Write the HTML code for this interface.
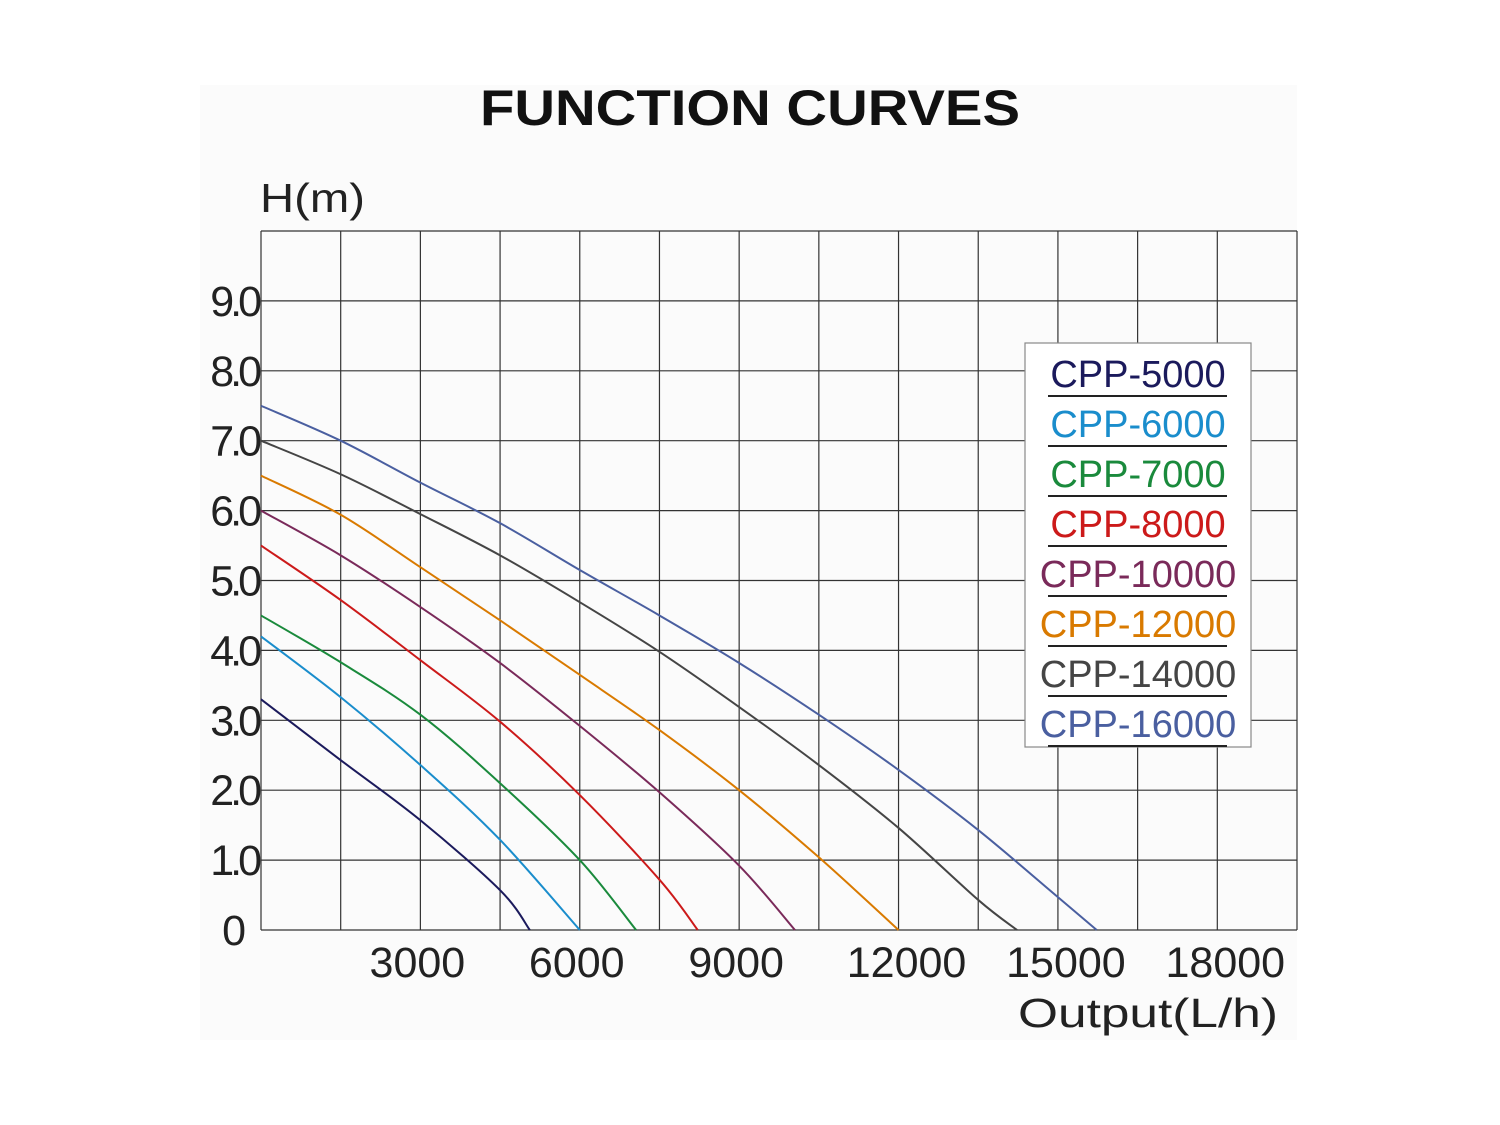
<!DOCTYPE html>
<html><head><meta charset="utf-8"><style>
html,body{margin:0;padding:0;background:#fff}
svg{display:block}
text{font-family:"Liberation Sans",sans-serif}
</style></head><body>
<svg id="chart" width="1500" height="1125" viewBox="0 0 1500 1125">
<rect x="200" y="85" width="1097" height="955" fill="#fbfbfb"/>
<text x="750" y="125" text-anchor="middle" font-size="50" font-weight="bold" textLength="540" lengthAdjust="spacingAndGlyphs" fill="#111">FUNCTION CURVES</text>
<text x="260" y="212" font-size="41" fill="#222" textLength="105" lengthAdjust="spacingAndGlyphs">H(m)</text>
<text x="1018" y="1027" font-size="41" fill="#222" textLength="260" lengthAdjust="spacingAndGlyphs">Output(L/h)</text>
<g id="grid"></g>
<g id="ticks"></g>
<g id="curves"></g>
<g id="legend"></g>
</svg>
<script>
const series = ["CPP-5000","CPP-6000","CPP-7000","CPP-8000","CPP-10000","CPP-12000","CPP-14000","CPP-16000"];
const colors = ["#1b1a5c","#1a8dcc","#1a8a3c","#cc1a1a","#7a2a5a","#d97a00","#454545","#4a5fa0"];
const flows = [0,1500,3000,4500,6000,7500,9000,10500,12000,13500,15000];
const endFlows = [5060,6000,7060,8220,10050,12000,14230,15730];
const h5000 = [3.3,2.43,1.57,0.57];
const h6000 = [4.2,3.33,2.36,1.29];
const h7000 = [4.5,3.83,3.08,2.1,1.0];
const h8000 = [5.5,4.72,3.86,2.98,1.93,0.72];
const h10000 = [6.0,5.36,4.62,3.82,2.92,1.97,0.92];
const h12000 = [6.5,5.94,5.19,4.43,3.65,2.86,2.0,1.04];
const h14000 = [7.0,6.52,5.95,5.36,4.69,3.98,3.19,2.36,1.46,0.43];
const h16000 = [7.5,7.0,6.4,5.82,5.15,4.5,3.82,3.08,2.29,1.43,0.47];
const heads = [h5000,h6000,h7000,h8000,h10000,h12000,h14000,h16000];
const yTicks = [0,1,2,3,4,5,6,7,8,9];
const yTickLabels = ["0","1.0","2.0","3.0","4.0","5.0","6.0","7.0","8.0","9.0"];
const xTicks = [3000,6000,9000,12000,15000,18000];
const xTickLabels = ["3000","6000","9000","12000","15000","18000"];

const X0=261,X1=1297,Y0=930,Y1=231,XMAX=19500,YMAX=10;
const xs=v=>X0+(X1-X0)*v/XMAX, ys=v=>Y0-(Y0-Y1)*v/YMAX;
const NS="http://www.w3.org/2000/svg";
function mk(tag,attrs,parent,txt){const e=document.createElementNS(NS,tag);for(const k in attrs)e.setAttribute(k,attrs[k]);if(txt!==undefined)e.textContent=txt;parent.appendChild(e);return e;}
const grid=document.getElementById('grid');
for(let i=0;i<=13;i++){const x=xs(i*1500);const l=mk('line',{x1:x,x2:x,y1:Y1,y2:Y0,stroke:'#333','stroke-width':1.2},grid);

}
for(let i=0;i<=10;i++){const y=ys(i);const l=mk('line',{x1:X0,x2:X1,y1:y,y2:y,stroke:'#333','stroke-width':1.2},grid);

}
const ticks=document.getElementById('ticks');
yTicks.forEach((v,i)=>{const t=mk('text',{x:v===0?242:258,y:ys(v)+15,'text-anchor':'end','font-size':43,'letter-spacing':-4,fill:'#222'},ticks,yTickLabels[i]);

});
xTicks.forEach((v,i)=>{const t=mk('text',{x:xs(v)+(v>=12000?8:-3),y:977,'text-anchor':'middle','font-size':43,fill:'#222'},ticks,xTickLabels[i]);

});
function spline(pts){let d=`M${pts[0][0]},${pts[0][1]}`;for(let i=0;i<pts.length-1;i++){const p0=pts[i-1]||pts[i],p1=pts[i],p2=pts[i+1],p3=pts[i+2]||p2;const c1=[p1[0]+(p2[0]-p0[0])/6,p1[1]+(p2[1]-p0[1])/6],c2=[p2[0]-(p3[0]-p1[0])/6,p2[1]-(p3[1]-p1[1])/6];d+=` C${c1[0]},${c1[1]} ${c2[0]},${c2[1]} ${p2[0]},${p2[1]}`;}return d;}
const curves=document.getElementById('curves');
heads.forEach((h,s)=>{const pts=h.map((v,i)=>[xs(flows[i]),ys(v)]);pts.push([xs(endFlows[s]),ys(0)]);
const p=mk('path',{d:spline(pts),fill:'none',stroke:colors[s],'stroke-width':2},curves);

});
const lg=document.getElementById('legend');
const box=mk('rect',{x:1025,y:343,width:226,height:404,fill:'#fff',stroke:'#888','stroke-width':1.2},lg);


series.forEach((n,i)=>{const y=387+i*50;const t=mk('text',{x:1138,y:y,'text-anchor':'middle','font-size':38,fill:colors[i]},lg,n);


const l=mk('line',{x1:1048,x2:1227,y1:y+9,y2:y+9,stroke:'#222','stroke-width':2},lg);

});
</script>
</body></html>
